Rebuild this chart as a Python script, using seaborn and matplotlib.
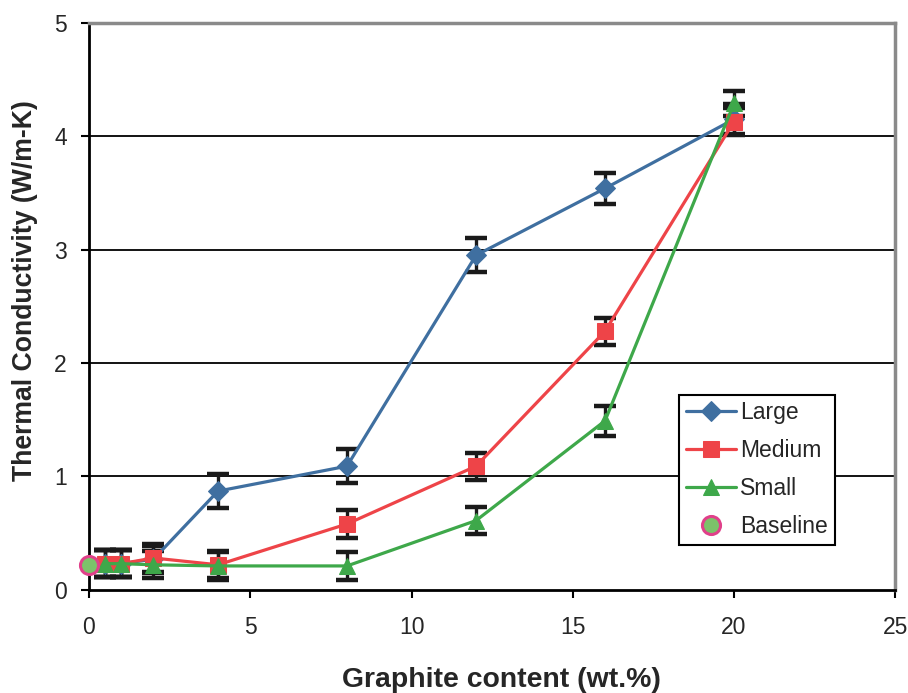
import numpy as np
import pandas as pd
import matplotlib
matplotlib.use("Agg")
import matplotlib.pyplot as plt
import seaborn as sns

x_vals = [0.5, 1, 2, 4, 8, 12, 16, 20]
large = [0.23, 0.23, 0.27, 0.87, 1.09, 2.95, 3.54, 4.15]
large_err = [0.12, 0.12, 0.12, 0.15, 0.15, 0.15, 0.14, 0.13]
medium = [0.23, 0.23, 0.28, 0.22, 0.58, 1.09, 2.28, 4.13]
medium_err = [0.12, 0.12, 0.12, 0.12, 0.12, 0.12, 0.12, 0.12]
small = [0.23, 0.23, 0.22, 0.21, 0.21, 0.61, 1.49, 4.29]
small_err = [0.12, 0.12, 0.12, 0.12, 0.12, 0.12, 0.13, 0.11]
baseline_x = [0]
baseline_y = [0.22]

series = {"Large": (large, large_err), "Medium": (medium, medium_err), "Small": (small, small_err)}
colors = {"Large": "#3f6fa0", "Medium": "#ee4448", "Small": "#3ea84a"}
markers = {"Large": "D", "Medium": "s", "Small": "^"}
msizes = {"Large": 10, "Medium": 11, "Small": 12}

rows = []
for name, (vals, errs) in series.items():
    for xv, yv, ev in zip(x_vals, vals, errs):
        rows.append({"x": xv, "y": yv, "err": ev, "series": name})
df = pd.DataFrame(rows)

sns.set_theme(style="white")
plt.rcParams["font.family"] = ["Liberation Sans", "DejaVu Sans"]

fig = plt.figure(figsize=(9.08, 6.93), dpi=100)
ax = fig.add_axes([0.098, 0.149, 0.888, 0.818])

for name in ["Large", "Medium", "Small"]:
    sub = df[df["series"] == name]
    ax.errorbar(sub["x"], sub["y"], yerr=sub["err"], fmt="none", ecolor="#1a1a1a",
                elinewidth=2.4, capsize=8, capthick=3.2, zorder=2)

for name in ["Large", "Medium", "Small"]:
    sub = df[df["series"] == name]
    sns.lineplot(data=sub, x="x", y="y", ax=ax, color=colors[name], marker=markers[name],
                 markersize=msizes[name], markeredgecolor=colors[name], linewidth=2.3,
                 label=name, zorder=3, sort=False)

ax.plot(baseline_x, baseline_y, linestyle="none", marker="o", markersize=13,
        markerfacecolor="#7cc26a", markeredgecolor="#e0408a", markeredgewidth=2.2,
        label="Baseline", zorder=4, clip_on=False)

ax.set_xlim(0, 25)
ax.set_ylim(0, 5)
ax.set_xticks([0, 5, 10, 15, 20, 25])
ax.set_yticks([0, 1, 2, 3, 4, 5])
for yv in [1, 2, 3, 4]:
    ax.axhline(yv, color="black", linewidth=1.3, zorder=1)

for side in ["left", "bottom"]:
    ax.spines[side].set_color("black")
    ax.spines[side].set_linewidth(2)
for side in ["top", "right"]:
    ax.spines[side].set_color("#8a8a8a")
    ax.spines[side].set_linewidth(2.5)

ax.tick_params(axis="x", which="major", direction="out", length=6, width=1.5,
               labelsize=16.5, color="black", pad=13, bottom=True)
ax.tick_params(axis="y", which="major", direction="out", length=6, width=1.5,
               labelsize=16.5, color="black", pad=10, left=True)
ax.set_xlabel("Graphite content (wt.%)", fontsize=20.4, fontweight="bold", va="center")
ax.set_ylabel("Thermal Conductivity (W/m-K)", fontsize=19.2, fontweight="bold", va="center")
ax.xaxis.set_label_coords(0.511, -0.159)
ax.yaxis.set_label_coords(-0.079, 0.527)

leg = ax.legend(loc="lower left", bbox_to_anchor=(0.732, 0.079), borderaxespad=0,
                fontsize=16.5, frameon=True, fancybox=False, edgecolor="black",
                framealpha=1, handlelength=2.2, handletextpad=0.15, borderpad=0.3,
                labelspacing=0.65)
leg.get_frame().set_linewidth(1.5)

fig.savefig("out.png", dpi=100)
